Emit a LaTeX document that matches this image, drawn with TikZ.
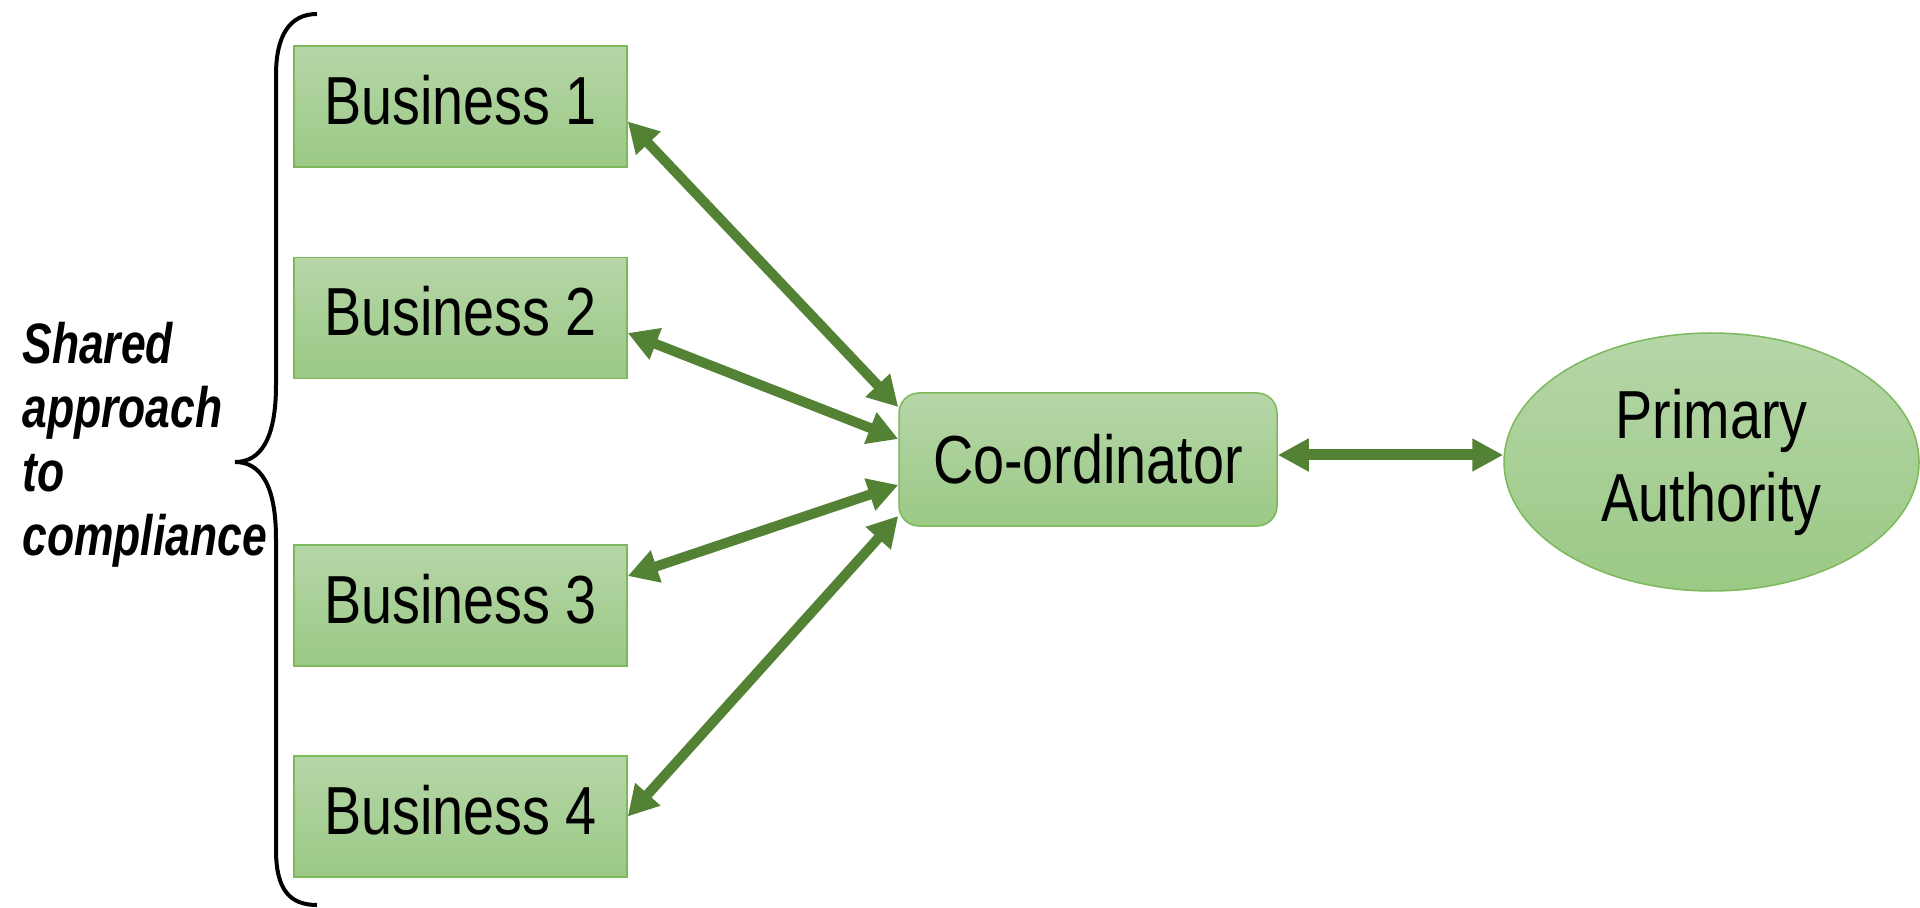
\documentclass[tikz,border=0pt]{standalone}
\usepackage{fontspec}
\usepackage{xcolor}
\usepackage{tikz}
\usetikzlibrary{shapes,arrows.meta,calc}
\newfontfamily\narrowfont[FakeStretch=0.82]{Liberation Sans}
\newfontfamily\labelfont[FakeStretch=0.78]{Liberation Sans}
\definecolor{boxtop}{RGB}{182,214,168}
\definecolor{boxbottom}{RGB}{155,201,133}
\definecolor{boxline}{RGB}{125,185,92}
\definecolor{linkgreen}{RGB}{84,130,53}

\begin{document}
\begin{tikzpicture}[x=0.5pt, y=-0.5pt,
    greenbox/.style={draw=boxline, line width=0.75pt, top color=boxtop, bottom color=boxbottom,
        inner sep=0pt, font=\narrowfont\fontsize{34}{41.5}\selectfont},
    business/.style={greenbox, rectangle, minimum width=166.5pt, minimum height=60.5pt, text depth=7pt},
    hub/.style={greenbox, rectangle, rounded corners=10pt, minimum width=189pt, minimum height=66.5pt},
    authority/.style={greenbox, ellipse, minimum width=207.5pt, minimum height=129pt, align=center},
    link/.style={draw=linkgreen, line width=5pt, {Triangle[length=15pt,width=16pt]}-{Triangle[length=15pt,width=16pt]}}]
    \useasboundingbox (0,0) rectangle (1920,908);
    \node[business] (b1) at (460.5,106.5) {Business 1};
    \node[business] (b2) at (460.5,318) {Business 2};
    \node[business] (b3) at (460.5,605.5) {Business 3};
    \node[business] (b4) at (460.5,816.5) {Business 4};
    \node[hub] (hub) at (1088,459.5) {Co-ordinator};
    \node[authority] (pa) at (1711.5,462) {Primary\\Authority};
    \draw[link] ([yshift=-7.5pt]b1.east) -- ([yshift=26.25pt]hub.west);
    \draw[link] ([yshift=-7.5pt]b2.east) -- ([yshift=10.25pt]hub.west);
    \draw[link] ([yshift=14.75pt]b3.east) -- ([yshift=-12.75pt]hub.west);
    \draw[link] (b4.east) -- ([yshift=-28.25pt]hub.west);
    \draw[link, line width=5.5pt, {Triangle[length=15.5pt,width=15.5pt]}-{Triangle[length=15.5pt,width=15.5pt]}]
        ([yshift=2.25pt]hub.east) -- ([yshift=2.25pt]hub.east -| pa.west);
    % brace
    \draw[line width=2pt] (317,14) .. controls (290,14) and (276,35) .. (276,75) -- (276,385)
        .. controls (276,440) and (260,462) .. (235,462) .. controls (260,462) and (276,484) .. (276,539)
        -- (276,850) .. controls (276,890) and (290,905) .. (317,905);
    \node[anchor=north west, align=left, inner sep=0pt, font=\labelfont\bfseries\itshape\fontsize{28.5}{32}\selectfont]
        (shared) at (22,322) {Shared\\approach\\to\\compliance};
\end{tikzpicture}
\end{document}
